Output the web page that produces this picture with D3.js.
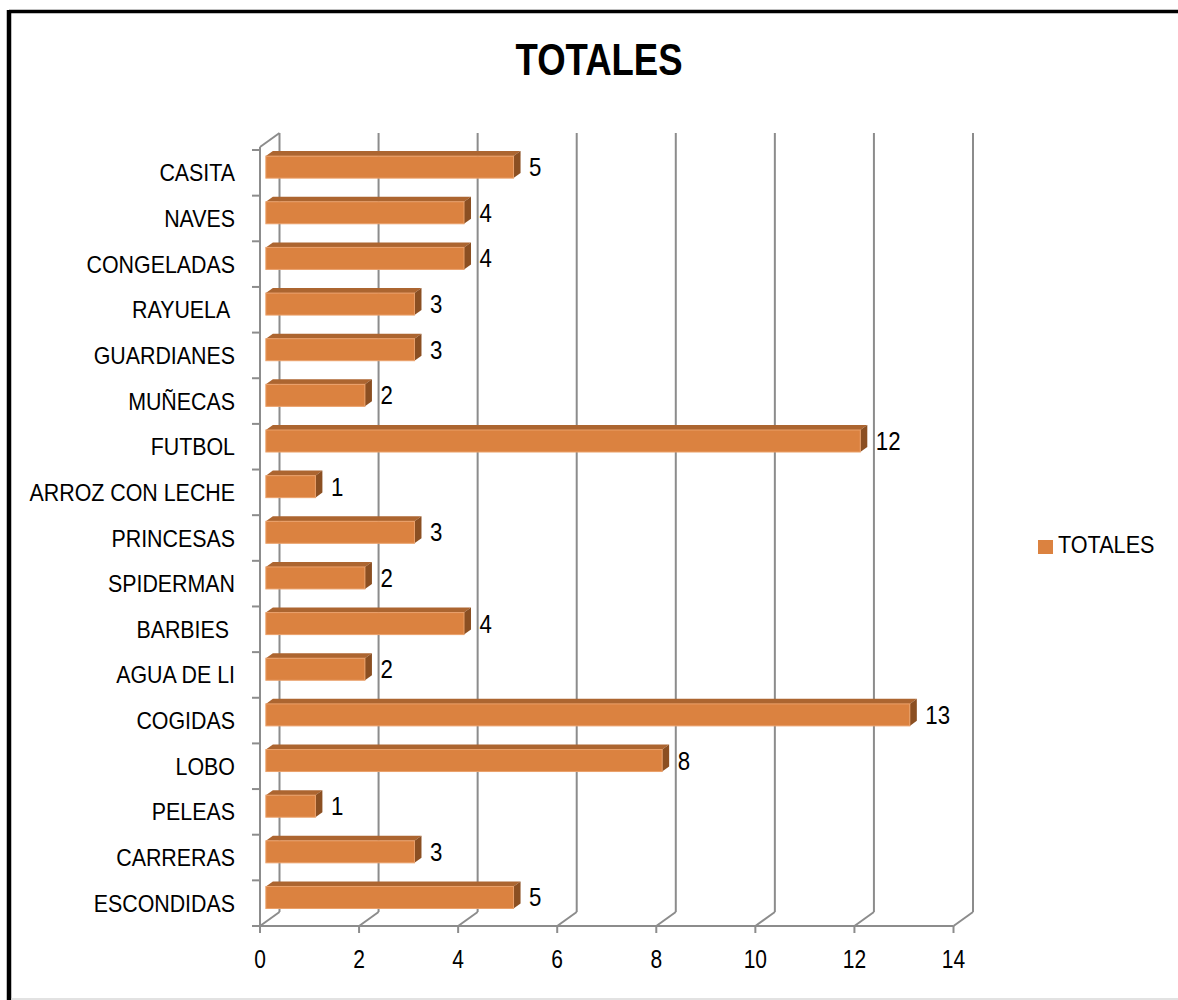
<!DOCTYPE html>
<html><head><meta charset="utf-8">
<script src="https://cdn.jsdelivr.net/npm/d3@7"></script>
<style>
html,body{margin:0;padding:0;background:#fff;}
text{font-family:"Liberation Sans",Arial,sans-serif;white-space:pre;}
</style></head>
<body>
<svg id="c" width="1178" height="1000"></svg>
<script>
// Data (Excel order, first category at the bottom)
const categories = ["ESCONDIDAS","CARRERAS","PELEAS","LOBO","COGIDAS","AGUA DE LI","BARBIES ","SPIDERMAN","PRINCESAS","ARROZ CON LECHE","FUTBOL","MUÑECAS","GUARDIANES","RAYUELA ","CONGELADAS","NAVES","CASITA"];
const totales = [5,3,1,8,13,2,4,2,3,1,12,2,3,3,4,4,5];
const xTicks = [0,2,4,6,8,10,12,14];
const seriesName = "TOTALES";
const titleText = "TOTALES";

const svg = d3.select("#c");
const W = 1178, H = 1000;

function ntext(px, py, str, size, anchor, weight, sx) {
  const gg = svg.append("g").attr("transform", `translate(${px},${py}) scale(${sx},1)`);
  gg.append("text").attr("x",0).attr("y",0).attr("text-anchor",anchor||"start")
    .attr("font-size",size).attr("font-weight",weight||"normal").attr("fill","#000").text(str);
  return gg;
}

// frame
svg.append("rect").attr("x",0).attr("y",0).attr("width",W).attr("height",H).attr("fill","#fff");
svg.append("line").attr("x1",9).attr("x2",W).attr("y1",11.5).attr("y2",11.5).attr("stroke","#000").attr("stroke-width",3.5);
svg.append("line").attr("x1",9).attr("x2",9).attr("y1",10).attr("y2",H).attr("stroke","#000").attr("stroke-width",4.5);
svg.append("line").attr("x1",11).attr("x2",W).attr("y1",999).attr("y2",999).attr("stroke","#d9d9d9").attr("stroke-width",1.5);

// 3D geometry
const DX = 19.5, DY = -14;
const tF = 0.3, tB = 0.66;
const x = d3.scaleLinear().domain([0,14]).range([260,953.5]);
const y = d3.scaleBand().domain(categories.slice().reverse()).range([150,926]);
const floorY = 926, topY = 147;
const P = (v, yy, t) => [x(v) + DX*t, yy + DY*t];

const grid = "#8c8c8c";
const g = svg.append("g");
xTicks.forEach(v => {
  const a = P(v, topY, 1), b = P(v, floorY, 1), c = P(v, floorY, 0);
  g.append("line").attr("x1",a[0]).attr("y1",a[1]).attr("x2",b[0]).attr("y2",b[1]).attr("stroke",grid).attr("stroke-width",2);
  g.append("line").attr("x1",b[0]).attr("y1",b[1]).attr("x2",c[0]).attr("y2",c[1]).attr("stroke",grid).attr("stroke-width",2);
});
g.append("line").attr("x1",x(0)).attr("x2",x(14)).attr("y1",floorY).attr("y2",floorY).attr("stroke",grid).attr("stroke-width",2);
{
  const a = P(0, topY, 1);
  g.append("line").attr("x1",x(0)).attr("x2",x(0)).attr("y1",topY).attr("y2",floorY).attr("stroke",grid).attr("stroke-width",2);
  g.append("line").attr("x1",x(0)).attr("y1",topY).attr("x2",a[0]).attr("y2",a[1]).attr("stroke",grid).attr("stroke-width",2);
}
const bounds = categories.map((c,i)=> y.range()[0] + i*y.step()).concat([y.range()[1]]);
bounds.forEach(b => {
  g.append("line").attr("x1",x(0)-8).attr("x2",x(0)).attr("y1",b).attr("y2",b).attr("stroke",grid).attr("stroke-width",2);
});
xTicks.forEach(v => {
  g.append("line").attr("x1",x(v)).attr("x2",x(v)).attr("y1",floorY).attr("y2",floorY+7).attr("stroke",grid).attr("stroke-width",2);
  ntext(x(v), 968, String(v), 25, "middle", "normal", 0.84);
});

categories.forEach(c => {
  ntext(235, y(c)+y.bandwidth()/2+8.5, c, 23.5, "end", "normal", 0.91);
});

const bh = 22;
const bars = svg.append("g");
categories.forEach((c,i) => {
  const v = totales[i];
  const cy = y(c) + y.bandwidth()/2 - 1.5;
  const f0 = P(0, cy, tF), f1 = P(v, cy, tF);
  const b0 = P(0, cy, tB), b1 = P(v, cy, tB);
  const top = f0[1] - bh/2, bot = f0[1] + bh/2;
  const dyb = b0[1]-f0[1];
  bars.append("path").attr("d", d3.line()([[f0[0],top],[f1[0],top],[b1[0],top+dyb],[b0[0],top+dyb]]) + "Z")
    .attr("fill","#ac6530");
  bars.append("path").attr("d", d3.line()([[f1[0],top],[b1[0],top+dyb],[b1[0],bot+dyb],[f1[0],bot]]) + "Z")
    .attr("fill","#8b4f22");
  bars.append("rect").attr("x",f0[0]).attr("y",top).attr("width",f1[0]-f0[0]).attr("height",bh)
    .attr("fill","#db8240").attr("stroke","#eaa06a").attr("stroke-width",1);
  ntext(b1[0]+8.5, f0[1]+9, String(v), 25, "start", "normal", 0.89);
});

ntext(599, 74.5, titleText, 44, "middle", "bold", 0.83);

svg.append("rect").attr("x",1038).attr("y",540).attr("width",15).attr("height",14).attr("fill","#db8240");
ntext(1058, 553, seriesName, 23.5, "start", "normal", 0.92);
</script>
</body></html>
